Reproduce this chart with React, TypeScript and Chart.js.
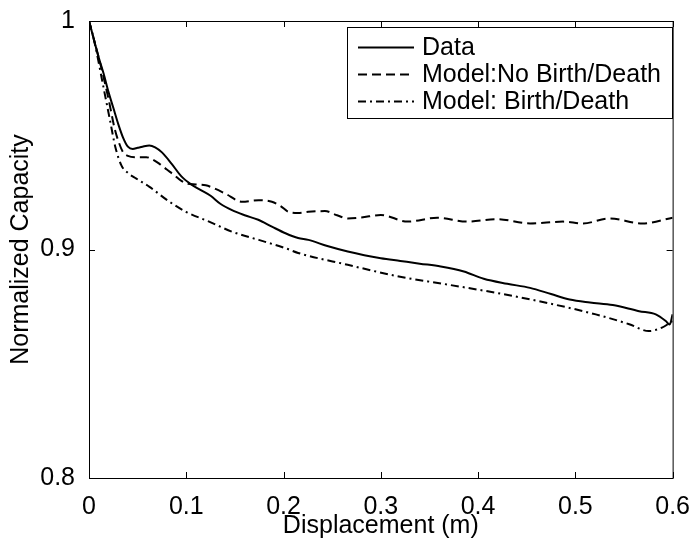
import React, { useEffect, useRef } from "react";
import { Chart, registerables } from "chart.js";

Chart.register(...registerables);

// ---- data ----
const dataX = [0, 0.005, 0.01, 0.015, 0.02, 0.025, 0.03, 0.035, 0.04, 0.045, 0.05, 0.055, 0.062, 0.068, 0.075, 0.085, 0.095, 0.105, 0.115, 0.125, 0.135, 0.147, 0.16, 0.174, 0.188, 0.202, 0.215, 0.2255, 0.245, 0.266, 0.283, 0.3, 0.32, 0.34, 0.3616, 0.3854, 0.4058, 0.43, 0.4534, 0.475, 0.4942, 0.515, 0.5385, 0.5656, 0.5827, 0.593, 0.597, 0.6];
const dataY = [1.0, 0.992, 0.984, 0.977, 0.969, 0.962, 0.955, 0.949, 0.945, 0.944, 0.9445, 0.945, 0.9455, 0.9447, 0.9425, 0.9375, 0.932, 0.9285, 0.926, 0.9235, 0.92, 0.9172, 0.915, 0.913, 0.91, 0.9071, 0.905, 0.9042, 0.9015, 0.8991, 0.8975, 0.8962, 0.895, 0.8938, 0.8926, 0.8904, 0.8872, 0.885, 0.8832, 0.8805, 0.8781, 0.8768, 0.8757, 0.873, 0.8716, 0.8687, 0.8672, 0.8716];

const noBDX = [0, 0.005, 0.013, 0.02, 0.0265, 0.031, 0.035, 0.04, 0.0487, 0.0589, 0.065, 0.0724, 0.08, 0.0878, 0.095, 0.101, 0.11, 0.12, 0.13, 0.14, 0.1574, 0.1745, 0.188, 0.197, 0.205, 0.215, 0.2255, 0.2425, 0.255, 0.266, 0.28, 0.3, 0.3276, 0.358, 0.389, 0.419, 0.4534, 0.4874, 0.508, 0.535, 0.569, 0.6];
const noBDY = [1.0, 0.992, 0.979, 0.966, 0.9527, 0.9465, 0.9426, 0.941, 0.9404, 0.9404, 0.9395, 0.9375, 0.935, 0.9325, 0.93, 0.9288, 0.9285, 0.9281, 0.9265, 0.9245, 0.9209, 0.9216, 0.9209, 0.919, 0.9165, 0.916, 0.9165, 0.9168, 0.915, 0.9136, 0.914, 0.9151, 0.9122, 0.9139, 0.9122, 0.9133, 0.9114, 0.9122, 0.9114, 0.9136, 0.9114, 0.9139];

const bdX = [0, 0.0027, 0.008, 0.0146, 0.0214, 0.027, 0.0333, 0.04, 0.0487, 0.0622, 0.0827, 0.0997, 0.1235, 0.147, 0.1745, 0.2017, 0.215, 0.266, 0.317, 0.368, 0.419, 0.47, 0.521, 0.5554, 0.5755, 0.589, 0.6];
const bdY = [1.0, 0.996, 0.986, 0.9716, 0.957, 0.945, 0.9368, 0.9335, 0.931, 0.9274, 0.9209, 0.9165, 0.9122, 0.9078, 0.9042, 0.9006, 0.8985, 0.8933, 0.8883, 0.8847, 0.881, 0.8767, 0.8716, 0.8673, 0.8643, 0.8658, 0.8687];

const seriesLabels = ["Data", "Model:No Birth/Death", "Model: Birth/Death"];
const xTickValues = [0, 0.1, 0.2, 0.3, 0.4, 0.5, 0.6];
const xTickLabels = ["0", "0.1", "0.2", "0.3", "0.4", "0.5", "0.6"];
const yTickValues = [0.8, 0.9, 1.0];
const yTickLabels = ["0.8", "0.9", "1"];
const xTitle = "Displacement (m)";
const yTitle = "Normalized Capacity";

const toPoints = (xs: number[], ys: number[]) => xs.map((x, i) => ({ x, y: ys[i] }));

const FONT_FAMILY = "'Liberation Sans', Arial, Helvetica, sans-serif";
const FONT_SIZE = 25;

export default function App() {
  const ref = useRef<HTMLCanvasElement>(null);

  useEffect(() => {
    document.body.style.margin = "0";
    const canvas = ref.current;
    if (!canvas) return;

    const labelFor = (vals: number[], labels: string[], v: number) => {
      const i = vals.findIndex((t) => Math.abs(t - v) < 1e-6);
      return i >= 0 ? labels[i] : "";
    };

    const framePlugin = {
      id: "matlabFrame",
      afterDraw(chart: any) {
        const { ctx, chartArea: a, scales } = chart;
        ctx.save();
        ctx.strokeStyle = "#000";
        ctx.lineWidth = 1;
        ctx.strokeRect(a.left + 0.5, a.top + 0.5, a.right - a.left, a.bottom - a.top);
        const L = 6;
        ctx.beginPath();
        for (const v of xTickValues) {
          const px = Math.round(scales.x.getPixelForValue(v)) + 0.5;
          ctx.moveTo(px, a.bottom);
          ctx.lineTo(px, a.bottom - L);
          ctx.moveTo(px, a.top);
          ctx.lineTo(px, a.top + L);
        }
        for (const v of yTickValues) {
          const py = Math.round(scales.y.getPixelForValue(v)) + 0.5;
          ctx.moveTo(a.left, py);
          ctx.lineTo(a.left + L, py);
          ctx.moveTo(a.right, py);
          ctx.lineTo(a.right - L, py);
        }
        ctx.stroke();

        // legend box (inside the plot, top right)
        const bx = 347, by = 27, bw = 325, bh = 91;
        ctx.fillStyle = "#fff";
        ctx.fillRect(bx, by, bw, bh);
        ctx.strokeRect(bx + 0.5, by + 0.5, bw, bh);
        ctx.font = `${FONT_SIZE}px ${FONT_FAMILY}`;
        ctx.textBaseline = "middle";
        ctx.textAlign = "left";
        chart.data.datasets.forEach((ds: any, i: number) => {
          const ry = by + 20.5 + i * 27;
          ctx.save();
          ctx.strokeStyle = ds.borderColor;
          ctx.lineWidth = ds.borderWidth;
          ctx.setLineDash(ds.borderDash || []);
          ctx.beginPath();
          ctx.moveTo(bx + 11, ry);
          ctx.lineTo(bx + 67, ry);
          ctx.stroke();
          ctx.restore();
          ctx.fillStyle = "#000";
          ctx.fillText(ds.label, bx + 75, ry + 1);
        });
        ctx.restore();
      },
    };

    const chart = new Chart(canvas, {
      type: "line",
      data: {
        datasets: [
          {
            label: seriesLabels[0],
            data: toPoints(dataX, dataY),
            borderColor: "#000",
            borderWidth: 2,
            pointRadius: 0,
            cubicInterpolationMode: "monotone",
            fill: false,
          },
          {
            label: seriesLabels[1],
            data: toPoints(noBDX, noBDY),
            borderColor: "#000",
            borderWidth: 2,
            borderDash: [9, 5],
            pointRadius: 0,
            cubicInterpolationMode: "monotone",
            fill: false,
          },
          {
            label: seriesLabels[2],
            data: toPoints(bdX, bdY),
            borderColor: "#000",
            borderWidth: 2,
            borderDash: [8, 4, 2, 4],
            pointRadius: 0,
            cubicInterpolationMode: "monotone",
            fill: false,
          },
        ],
      },
      options: {
        responsive: false,
        animation: false,
        devicePixelRatio: 1,
        layout: { padding: { top: 18, right: 19, bottom: 0, left: 0 } },
        plugins: { legend: { display: false }, tooltip: { enabled: false } },
        scales: {
          x: {
            type: "linear",
            min: 0,
            max: 0.6,
            afterBuildTicks: (scale: any) => {
              scale.ticks = xTickValues.map((v) => ({ value: v }));
            },
            afterFit: (scale: any) => {
              scale.height = 63;
            },
            grid: { display: false },
            border: { display: false },
            ticks: {
              color: "#000",
              padding: 6,
              maxRotation: 0,
              font: { family: FONT_FAMILY, size: FONT_SIZE },
              callback: (v: any) => labelFor(xTickValues, xTickLabels, Number(v)),
            },
            title: {
              display: true,
              text: xTitle,
              color: "#000",
              font: { family: FONT_FAMILY, size: FONT_SIZE },
              padding: { top: 0, bottom: 0 },
            },
          },
          y: {
            type: "linear",
            min: 0.8,
            max: 1.0,
            afterBuildTicks: (scale: any) => {
              scale.ticks = yTickValues.map((v) => ({ value: v }));
            },
            afterFit: (scale: any) => {
              scale.width = 89;
            },
            grid: { display: false },
            border: { display: false },
            ticks: {
              color: "#000",
              padding: 6,
              font: { family: FONT_FAMILY, size: FONT_SIZE },
              callback: (v: any) => labelFor(yTickValues, yTickLabels, Number(v)),
            },
            title: {
              display: true,
              text: yTitle,
              color: "#000",
              font: { family: FONT_FAMILY, size: FONT_SIZE },
              padding: { top: 6, bottom: 0 },
            },
          },
        },
      } as any,
      plugins: [framePlugin],
    });

    return () => chart.destroy();
  }, []);

  return (
    <div style={{ position: "absolute", left: 0, top: 0, width: 696, height: 541, background: "#fff" }}>
      <canvas ref={ref} width={696} height={541} style={{ display: "block" }} />
    </div>
  );
}
